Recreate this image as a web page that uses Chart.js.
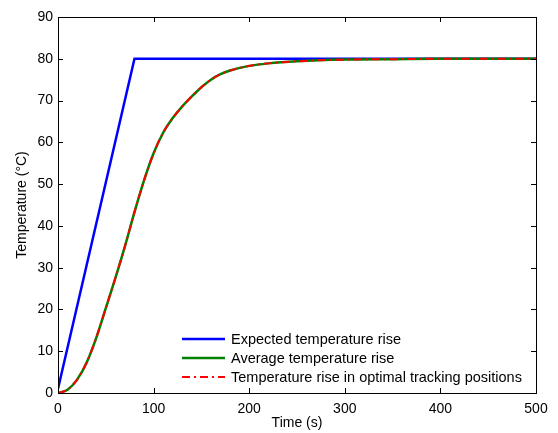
<!DOCTYPE html>
<html>
<head>
<meta charset="utf-8">
<script src="https://cdn.jsdelivr.net/npm/chart.js@4"></script>
<style>
  html, body { margin: 0; padding: 0; background: #fff; }
  #wrap { width: 558px; height: 433px; }
</style>
</head>
<body>
<div id="wrap"><canvas id="chart" width="558" height="433"></canvas></div>
<script>
const expectedTime = [0, 80, 500];
const expectedTemp = [1, 80, 80];

const avgTime = [0, 10, 20, 30, 40, 50, 60, 70, 80, 90, 100, 110, 120, 130, 140, 150, 160, 170, 180, 200, 220, 250, 300, 350, 400, 450, 500];
const avgTemp = [0, 0.8, 3.2, 7.3, 13.2, 20.3, 27.5, 35.1, 43.3, 50.9, 57.4, 62.3, 65.8, 68.6, 71.0, 73.2, 75.0, 76.3, 77.2, 78.3, 78.9, 79.4, 79.8, 79.9, 80, 80, 80];

const optTime = avgTime;
const optTemp = [0, 0.8, 3.2, 7.3, 13.2, 20.3, 27.5, 35.1, 43.3, 50.9, 57.4, 62.3, 65.8, 68.6, 71.0, 73.2, 75.0, 76.3, 77.2, 78.3, 78.9, 79.4, 79.8, 79.9, 80, 80, 80];

const xTicks = [0, 100, 200, 300, 400, 500];
const yTicks = [0, 10, 20, 30, 40, 50, 60, 70, 80, 90];

const labels = ['Expected temperature rise', 'Average temperature rise', 'Temperature rise in optimal tracking positions'];

function toPoints(xs, ys) {
    return xs.map((x, i) => ({x: x, y: ys[i]}));
}

const font = 'Liberation Sans, Arial, sans-serif';

// inward ticks and the box around the plot, MATLAB style
const framePlugin = {
    id: 'frame',
    afterDatasetsDraw(chart) {
        const ctx = chart.ctx;
        const a = chart.chartArea;
        const xs = chart.scales.x;
        const ys = chart.scales.y;
        ctx.save();
        ctx.strokeStyle = '#000';
        ctx.lineWidth = 1;
        ctx.beginPath();
        for (const v of xTicks) {
            const px = Math.round(xs.getPixelForValue(v)) + 0.5;
            ctx.moveTo(px, a.bottom);
            ctx.lineTo(px, a.bottom - 5);
            ctx.moveTo(px, a.top);
            ctx.lineTo(px, a.top + 5);
        }
        for (const v of yTicks) {
            const py = Math.round(ys.getPixelForValue(v)) + 0.5;
            ctx.moveTo(a.left, py);
            ctx.lineTo(a.left + 5, py);
            ctx.moveTo(a.right, py);
            ctx.lineTo(a.right - 5, py);
        }
        ctx.stroke();
        ctx.strokeRect(Math.round(a.left) + 0.5, Math.round(a.top) + 0.5, Math.round(a.right - a.left), Math.round(a.bottom - a.top));
        ctx.restore();
    }
};

// legend inside the plot, bottom right, no box
const legendPlugin = {
    id: 'innerLegend',
    afterDraw(chart) {
        const ctx = chart.ctx;
        const x0 = 182, x1 = 225, tx = 231;
        const rows = [339, 358, 377];
        ctx.save();
        ctx.font = '14.5px ' + font;
        ctx.textBaseline = 'middle';
        chart.data.datasets.forEach((ds, i) => {
            ctx.strokeStyle = ds.borderColor;
            ctx.lineWidth = ds.borderWidth;
            ctx.setLineDash(ds.borderDash || []);
            ctx.beginPath();
            ctx.moveTo(x0, rows[i]);
            ctx.lineTo(x1, rows[i]);
            ctx.stroke();
            ctx.setLineDash([]);
            ctx.fillStyle = '#000';
            ctx.fillText(ds.label, tx, rows[i] + 1);
        });
        ctx.restore();
    }
};

const data = {
    datasets: [{
        label: labels[0],
        data: toPoints(expectedTime, expectedTemp),
        borderColor: '#0000ff',
        borderWidth: 2.5,
        tension: 0,
        order: 3
    }, {
        label: labels[1],
        data: toPoints(avgTime, avgTemp),
        borderColor: '#008000',
        borderWidth: 2.5,
        cubicInterpolationMode: 'monotone',
        order: 2
    }, {
        label: labels[2],
        data: toPoints(optTime, optTemp),
        borderColor: '#ff0000',
        borderWidth: 2,
        borderDash: [8, 4, 2, 4],
        cubicInterpolationMode: 'monotone',
        order: 1
    }]
};

const config = {
    type: 'line',
    data: data,
    options: {
        responsive: false,
        animation: false,
        events: [],
        layout: { padding: { left: 0, right: 22, top: 17, bottom: 0 } },
        elements: { point: { radius: 0 } },
        plugins: { legend: { display: false }, tooltip: { enabled: false } },
        scales: {
            x: {
                type: 'linear',
                min: 0,
                max: 500,
                afterFit: s => { s.height = 40; },
                afterBuildTicks: s => { s.ticks = xTicks.map(v => ({value: v})); },
                grid: { display: false, drawTicks: false },
                border: { display: false },
                ticks: { color: '#000', font: { family: font, size: 14 }, padding: 8, maxRotation: 0 },
                title: { display: true, text: 'Time (s)', color: '#000', font: { family: font, size: 14 }, padding: { top: 0, bottom: 1 } }
            },
            y: {
                min: 0,
                max: 90,
                afterFit: s => { s.width = 58; },
                afterBuildTicks: s => { s.ticks = yTicks.map(v => ({value: v})); },
                grid: { display: false, drawTicks: false },
                border: { display: false },
                ticks: { color: '#000', font: { family: font, size: 14 }, padding: 5 },
                title: { display: true, text: 'Temperature (°C)', color: '#000', font: { family: font, size: 14 }, padding: { top: 14, bottom: 0 } }
            }
        }
    },
    plugins: [framePlugin, legendPlugin]
};

new Chart(document.getElementById('chart'), config);
</script>
</body>
</html>
